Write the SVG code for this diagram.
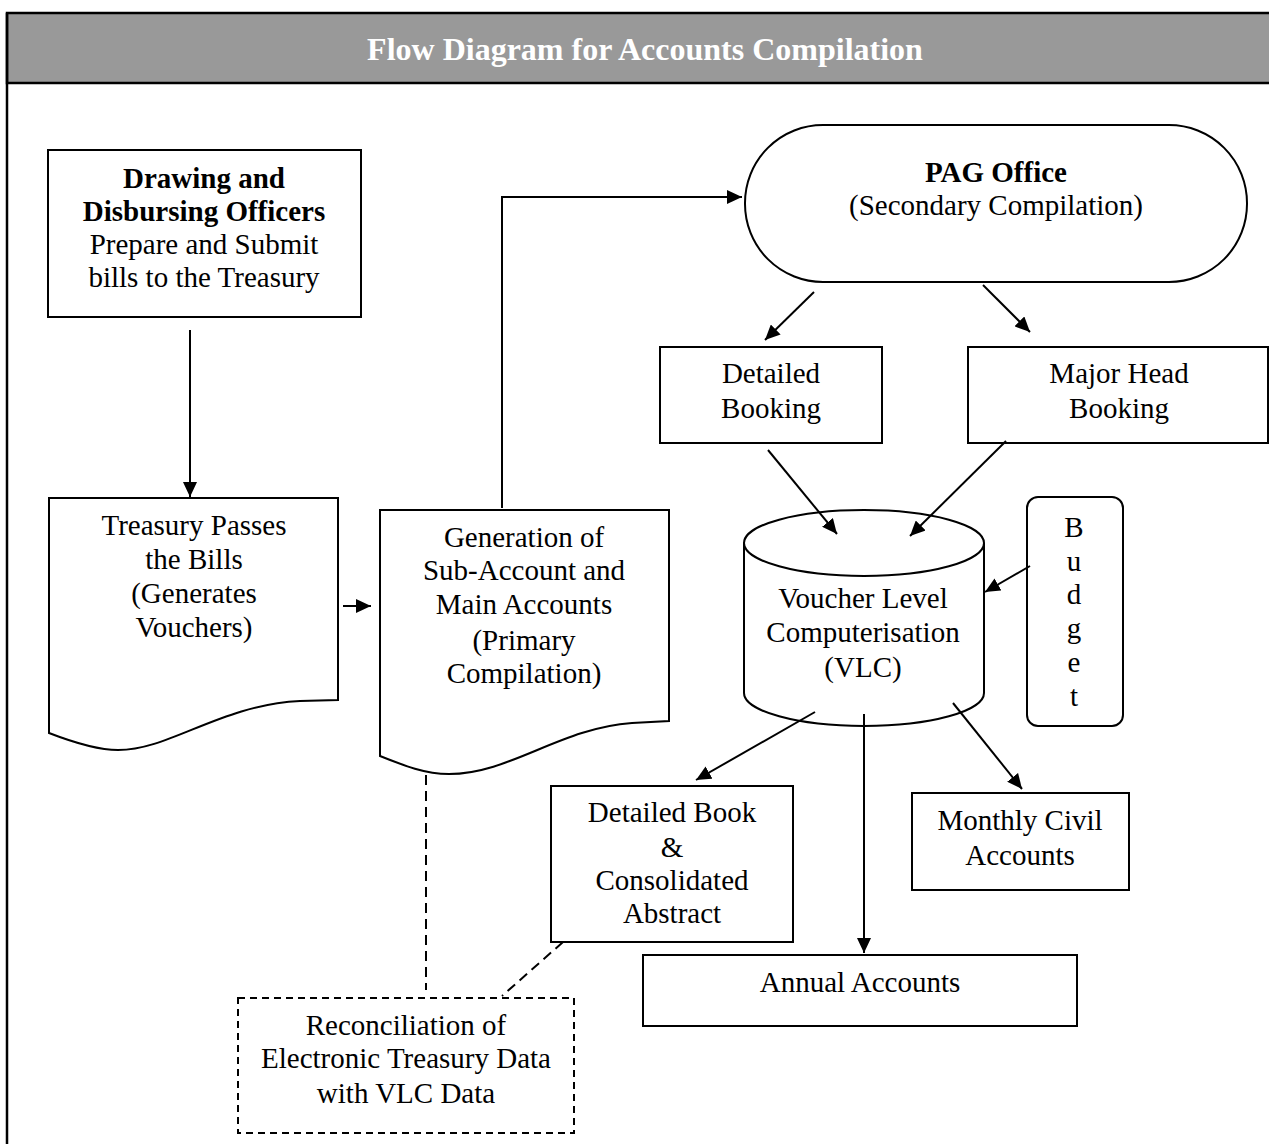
<svg xmlns="http://www.w3.org/2000/svg" width="1269" height="1144" viewBox="0 0 1269 1144">
<style>
.t{font-family:"Liberation Serif","Times New Roman",serif;font-size:29px;fill:#000;text-anchor:middle}
.b{font-weight:bold}
.s{fill:#fff;stroke:#000;stroke-width:2}
.c{fill:none;stroke:#000;stroke-width:2}
.d{fill:none;stroke:#000;stroke-width:2;stroke-dasharray:10 6}
</style>
<defs>
<marker id="ah" markerUnits="userSpaceOnUse" markerWidth="16" markerHeight="14" refX="15" refY="7" orient="auto">
<path d="M0,0 L15,7 L0,14 Z" fill="#000"/>
</marker>
</defs>
<rect x="0" y="0" width="1269" height="1144" fill="#fff"/>
<g id="frame">
<rect x="7" y="13" width="1270" height="70" fill="#999" stroke="#000" stroke-width="2.5"/>
<line x1="7" y1="13" x2="7" y2="1150" stroke="#000" stroke-width="2.5"/>
<text x="645" y="60" style="font-family:'Liberation Serif','Times New Roman',serif;font-size:32px;font-weight:bold;fill:#fff;text-anchor:middle">Flow Diagram for Accounts Compilation</text>
</g>
<g id="ddo">
<rect class="s" x="48" y="150" width="313" height="167"/>
<text class="t b" x="204" y="188">Drawing and</text>
<text class="t b" x="204" y="221">Disbursing Officers</text>
<text class="t" x="204" y="254">Prepare and Submit</text>
<text class="t" x="204" y="287">bills to the Treasury</text>
</g>
<g id="treasury">
<path class="s" d="M49,498 H338 V700 L300,701 C220,705 170,750 118,750 C100,750 80,745 49,733 Z"/>
<text class="t" x="194" y="535">Treasury Passes</text>
<text class="t" x="194" y="569">the Bills</text>
<text class="t" x="194" y="603">(Generates</text>
<text class="t" x="194" y="637">Vouchers)</text>
</g>
<g id="generation">
<path class="s" d="M380,510 H669 V721 L632,723 C560,728 510,774 449,774 C425,774 405,766 380,756 Z"/>
<text class="t" x="524" y="547">Generation of</text>
<text class="t" x="524" y="580">Sub-Account and</text>
<text class="t" x="524" y="614">Main Accounts</text>
<text class="t" x="524" y="650">(Primary</text>
<text class="t" x="524" y="683">Compilation)</text>
</g>
<g id="pag">
<rect class="s" x="745" y="125" width="502" height="157" rx="78" ry="78"/>
<text class="t b" x="996" y="182">PAG Office</text>
<text class="t" x="996" y="215">(Secondary Compilation)</text>
</g>
<g id="detailed-booking">
<rect class="s" x="660" y="347" width="222" height="96"/>
<text class="t" x="771" y="383">Detailed</text>
<text class="t" x="771" y="418">Booking</text>
</g>
<g id="major-head">
<rect class="s" x="968" y="347" width="300" height="96"/>
<text class="t" x="1119" y="383">Major Head</text>
<text class="t" x="1119" y="418">Booking</text>
</g>
<g id="vlc">
<path class="s" d="M744,543 V693 A120,33 0 0 0 984,693 V543"/>
<ellipse class="s" cx="864" cy="543" rx="120" ry="33"/>
<text class="t" x="863" y="608">Voucher Level</text>
<text class="t" x="863" y="642">Computerisation</text>
<text class="t" x="863" y="677">(VLC)</text>
</g>
<g id="budget">
<rect class="s" x="1027" y="497" width="96" height="229" rx="11" ry="11"/>
<text class="t" x="1074" y="537">B</text>
<text class="t" x="1074" y="571">u</text>
<text class="t" x="1074" y="604">d</text>
<text class="t" x="1074" y="638">g</text>
<text class="t" x="1074" y="672">e</text>
<text class="t" x="1074" y="706">t</text>
</g>
<g id="detailed-book">
<rect class="s" x="551" y="786" width="242" height="156"/>
<text class="t" x="672" y="822">Detailed Book</text>
<text class="t" x="672" y="857">&amp;</text>
<text class="t" x="672" y="890">Consolidated</text>
<text class="t" x="672" y="923">Abstract</text>
</g>
<g id="monthly">
<rect class="s" x="912" y="793" width="217" height="97"/>
<text class="t" x="1020" y="830">Monthly Civil</text>
<text class="t" x="1020" y="865">Accounts</text>
</g>
<g id="annual">
<rect class="s" x="643" y="955" width="434" height="71"/>
<text class="t" x="860" y="992">Annual Accounts</text>
</g>
<g id="reconciliation">
<rect x="238" y="998" width="336" height="135" fill="#fff" stroke="#000" stroke-width="2" stroke-dasharray="7 5"/>
<text class="t" x="406" y="1035">Reconciliation of</text>
<text class="t" x="406" y="1068">Electronic Treasury Data</text>
<text class="t" x="406" y="1103">with VLC Data</text>
</g>
<g id="connectors">
<path class="c" d="M190,330 V497" marker-end="url(#ah)"/>
<path class="c" d="M343,606 H371" marker-end="url(#ah)"/>
<path class="c" d="M502,508 V197 H742" marker-end="url(#ah)"/>
<path class="c" d="M814,292 L765,340" marker-end="url(#ah)"/>
<path class="c" d="M983,285 L1030,332" marker-end="url(#ah)"/>
<path class="c" d="M768,450 L837,534" marker-end="url(#ah)"/>
<path class="c" d="M1006,441 L910,536" marker-end="url(#ah)"/>
<path class="c" d="M1030,566 L985,592" marker-end="url(#ah)"/>
<path class="c" d="M815,712 L696,780" marker-end="url(#ah)"/>
<path class="c" d="M864,714 V953" marker-end="url(#ah)"/>
<path class="c" d="M953,703 L1022,789" marker-end="url(#ah)"/>
<path class="d" d="M426,775 V990"/>
<path class="d" d="M563,942 L502,996"/>
</g>
</svg>
